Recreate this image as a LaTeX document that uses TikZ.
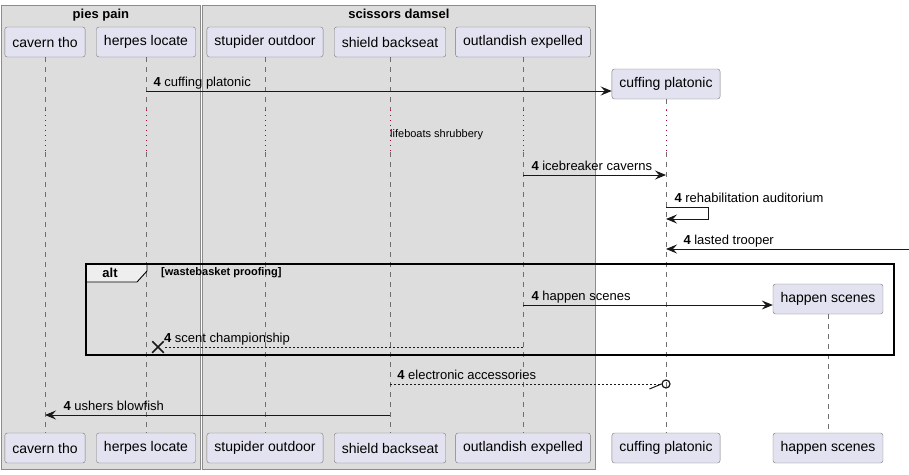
\documentclass[tikz,border=0pt]{standalone}
\usepackage{fontspec}
\setmainfont{Liberation Sans}
\usepackage{tikz}
\usetikzlibrary{positioning,arrows.meta,shapes.misc}
\definecolor{partfill}{HTML}{E2E2F0}
\definecolor{partline}{HTML}{7A7A7A}
\definecolor{grpfill}{HTML}{DDDDDD}
\definecolor{grpline}{HTML}{8C8C8C}
\definecolor{lifecol}{HTML}{6E6E6E}
\definecolor{delayred}{HTML}{A80036}
\definecolor{arrowcol}{HTML}{181818}
\definecolor{tabfill}{HTML}{EEEEEE}

\begin{document}
\begin{tikzpicture}[x=1pt,y=-1pt]
\tikzstyle{part}=[rectangle, rounded corners=2.5pt, draw=partline, fill=partfill, minimum height=30pt, inner xsep=7.5pt, font=\fontsize{14}{16}\selectfont]
\tikzstyle{grp}=[rectangle, draw=grpline, fill=grpfill, anchor=north west, line width=0.8pt]
\tikzstyle{grptitle}=[font=\fontsize{13}{15}\selectfont\bfseries, inner sep=3.5pt]
\tikzstyle{life}=[draw=lifecol, dash pattern=on 5pt off 5pt, line width=0.8pt]
\tikzstyle{delay}=[draw=delayred, dash pattern=on 1pt off 4pt, line width=1pt]
\tikzstyle{msg}=[draw=arrowcol, line width=1pt, -{Stealth[length=11pt,width=9pt,inset=4pt]}]
\tikzstyle{ret}=[draw=arrowcol, line width=0.8pt, dash pattern=on 2pt off 2pt]
\tikzstyle{lbl}=[font=\fontsize{13}{15}\selectfont, inner sep=0pt, anchor=base west]
\tikzstyle{note}=[font=\fontsize{11}{13}\selectfont, inner sep=0pt, anchor=base west]
\tikzstyle{frame}=[draw=black, line width=1.6pt]
\useasboundingbox (0,0) rectangle (909,474);

	% boxes
	\node[grp, minimum width=199pt, minimum height=464pt] (pies) at (1,5) {};
	\node[grp, minimum width=393pt, minimum height=464pt] (scis) at (202,5) {};
	\node[grptitle, below=0pt of pies.north] (pies_l) {pies pain};
	\node[grptitle, below=0pt of scis.north] (scis_l) {scissors damsel};

	% participants
	\node[part] (cav_t) at (45,42) {cavern tho};
	\node[part] (her_t) at (146,42) {herpes locate};
	\node[part] (stu_t) at (265,42) {stupider outdoor};
	\node[part] (shi_t) at (390,42) {shield backseat};
	\node[part] (out_t) at (523,42) {outlandish expelled};
	\node[part] (cuf_t) at (666,84) {cuffing platonic};
	\node[part] (hap_t) at (828,299) {happen scenes};

	\node[part] (cav_b) at (45,448) {cavern tho};
	\node[part] (her_b) at (146,448) {herpes locate};
	\node[part] (stu_b) at (265,448) {stupider outdoor};
	\node[part] (shi_b) at (390,448) {shield backseat};
	\node[part] (out_b) at (523,448) {outlandish expelled};
	\node[part] (cuf_b) at (666,448) {cuffing platonic};
	\node[part] (hap_b) at (828,448) {happen scenes};

	% lifelines, with the delay
	\coordinate (d_1) at (0,110);
	\coordinate (d_2) at (0,152);
	\foreach \p in {cav,her,stu,shi,out,cuf} {
		\draw[life] (\p_t) -- (\p_t |- d_1);
		\draw[delay] (\p_t |- d_1) -- (\p_t |- d_2);
		\draw[life] (\p_t |- d_2) -- (\p_b);
	}
	\draw[life] (hap_t) -- (hap_b);
	\node[note] (pause) at (390,137) {lifeboats shrubbery};

	% messages
	\coordinate (y_1) at (0,91);
	\coordinate (y_2) at (0,175);
	\coordinate (y_3) at (0,207);
	\coordinate (y_4) at (0,219);
	\coordinate (edge) at (909,249);
	\coordinate (y_5) at (0,305);
	\coordinate (y_6) at (0,347);
	\coordinate (y_7) at (0,384);
	\coordinate (y_8) at (0,415);

	\draw[msg] (her_t |- y_1) -- (cuf_t.west |- y_1)
		node[lbl, pos=0, xshift=7pt, yshift=5pt] {\textbf{4} cuffing platonic};
	\draw[msg] (out_t |- y_2) -- (cuf_t |- y_2)
		node[lbl, pos=0, xshift=8pt, yshift=5pt] {\textbf{4} icebreaker caverns};
	\draw[msg] (cuf_t |- y_3) -- node[lbl, pos=0, xshift=8pt, yshift=5pt] {\textbf{4} rehabilitation auditorium}
		++(42,0) -- ++(0,12) -- (cuf_t |- y_4);
	\draw[msg] (edge) -- (cuf_t |- edge)
		node[lbl, pos=1, xshift=17pt, yshift=5pt] {\textbf{4} lasted trooper};

	% alt
	\draw[draw=black, line width=0.9pt, fill=tabfill] (86,264) -- (147,264) -- (147,271) -- (137,282) -- (86,282) -- cycle;
	\draw[frame] (86,264) rectangle (894,355);
	\node[font=\fontsize{13}{15}\selectfont\bfseries, inner sep=0pt] (alt_l) at (110,273) {alt};
	\node[font=\fontsize{11}{13}\selectfont\bfseries, inner sep=0pt, anchor=west] (alt_c) at (161,273) {[wastebasket proofing]};

	\draw[msg] (out_t |- y_5) -- (hap_t.west |- y_5)
		node[lbl, pos=0, xshift=8pt, yshift=5pt] {\textbf{4} happen scenes};
	\node[cross out, draw=arrowcol, line width=1.5pt, minimum size=10pt, inner sep=0pt, xshift=12pt] (kill) at (her_t |- y_6) {};
	\draw[ret] (out_t |- y_6) -- (kill)
		node[lbl, pos=1, yshift=5pt] {\textbf{4} scent championship};

	\node[circle, draw=arrowcol, line width=1.2pt, minimum size=8pt, inner sep=0pt] (recv) at (cuf_t |- y_7) {};
	\draw[ret] (shi_t |- y_7) -- (recv)
		node[lbl, pos=0, xshift=7pt, yshift=5pt] {\textbf{4} electronic accessories};
	\draw[draw=arrowcol, line width=1pt] (recv.west) -- ++(-12,5);

	\draw[msg] (shi_t |- y_8) -- (cav_t |- y_8)
		node[lbl, pos=1, xshift=18pt, yshift=5pt] {\textbf{4} ushers blowfish};

\end{tikzpicture}
\end{document}
